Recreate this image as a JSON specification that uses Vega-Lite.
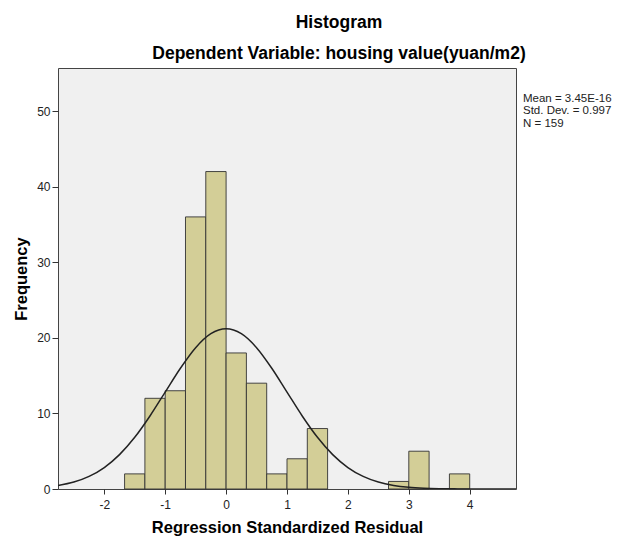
{
  "$schema": "https://vega.github.io/schema/vega-lite/v6.json",
  "width": 458,
  "height": 421,
  "autosize": "none",
  "padding": {"left": 58, "top": 68, "right": 102, "bottom": 49},
  "background": "white",
  "config": {
    "font": "Liberation Sans",
    "view": {"fill": "#F0F0F0", "stroke": "#444444", "strokeWidth": 1}
  },
  "title": {
    "text": "Histogram",
    "subtitle": "Dependent Variable: housing value(yuan/m2)",
    "anchor": "middle",
    "dx": 52,
    "offset": 6,
    "fontSize": 17.5,
    "fontWeight": "bold",
    "color": "#000000",
    "subtitleFontSize": 17.5,
    "subtitleFontWeight": "bold",
    "subtitleColor": "#000000",
    "subtitlePadding": 13
  },
  "datasets": {
    "hist": [
      {"bin_start": -1.6667, "bin_end": -1.3333, "count": 2},
      {"bin_start": -1.3333, "bin_end": -1.0, "count": 12},
      {"bin_start": -1.0, "bin_end": -0.6667, "count": 13},
      {"bin_start": -0.6667, "bin_end": -0.3333, "count": 36},
      {"bin_start": -0.3333, "bin_end": 0.0, "count": 42},
      {"bin_start": 0.0, "bin_end": 0.3333, "count": 18},
      {"bin_start": 0.3333, "bin_end": 0.6667, "count": 14},
      {"bin_start": 0.6667, "bin_end": 1.0, "count": 2},
      {"bin_start": 1.0, "bin_end": 1.3333, "count": 4},
      {"bin_start": 1.3333, "bin_end": 1.6667, "count": 8},
      {"bin_start": 2.6667, "bin_end": 3.0, "count": 1},
      {"bin_start": 3.0, "bin_end": 3.3333, "count": 5},
      {"bin_start": 3.6667, "bin_end": 4.0, "count": 2}
    ],
    "curve": [
      {"x": -2.76, "y": 0.46},
      {"x": -2.5, "y": 0.914},
      {"x": -2.25, "y": 1.662},
      {"x": -2.0, "y": 2.836},
      {"x": -1.75, "y": 4.544},
      {"x": -1.5, "y": 6.839},
      {"x": -1.25, "y": 9.663},
      {"x": -1.0, "y": 12.824},
      {"x": -0.75, "y": 15.981},
      {"x": -0.5, "y": 18.702},
      {"x": -0.25, "y": 20.552},
      {"x": 0.0, "y": 21.208},
      {"x": 0.25, "y": 20.552},
      {"x": 0.5, "y": 18.702},
      {"x": 0.75, "y": 15.981},
      {"x": 1.0, "y": 12.824},
      {"x": 1.25, "y": 9.663},
      {"x": 1.5, "y": 6.839},
      {"x": 1.75, "y": 4.544},
      {"x": 2.0, "y": 2.836},
      {"x": 2.25, "y": 1.662},
      {"x": 2.5, "y": 0.914},
      {"x": 2.75, "y": 0.473},
      {"x": 3.0, "y": 0.229},
      {"x": 3.25, "y": 0.105},
      {"x": 3.5, "y": 0.045},
      {"x": 3.75, "y": 0.018},
      {"x": 4.0, "y": 0.007},
      {"x": 4.25, "y": 0.002},
      {"x": 4.5, "y": 0.001},
      {"x": 4.76, "y": 0.0}
    ],
    "stats": [
      {"label": "Mean = 3.45E-16\nStd. Dev. = 0.997\nN = 159"}
    ]
  },
  "layer": [
    {
      "data": {"name": "hist"},
      "mark": {"type": "bar", "fill": "#D3CE97", "stroke": "#333333", "strokeWidth": 1, "strokeOpacity": 0.9},
      "encoding": {
        "x": {
          "field": "bin_start",
          "type": "quantitative",
          "scale": {"domain": [-2.76, 4.76], "nice": false, "zero": false},
          "axis": {
            "title": "Regression Standardized Residual",
            "values": [-2, -1, 0, 1, 2, 3, 4],
            "labelExpr": "'' + datum.value",
            "grid": false,
            "domain": false,
            "tickColor": "#333333",
            "tickSize": 5,
            "labelFontSize": 12,
            "labelColor": "#222222",
            "labelPadding": 5,
            "titleFontSize": 16.5,
            "titleFontWeight": "bold",
            "titleColor": "#000000",
            "titlePadding": 9
          }
        },
        "x2": {"field": "bin_end"},
        "y": {
          "field": "count",
          "type": "quantitative",
          "scale": {"domain": [0, 55.7], "nice": false},
          "axis": {
            "title": "Frequency",
            "values": [0, 10, 20, 30, 40, 50],
            "grid": false,
            "domain": false,
            "tickColor": "#333333",
            "tickSize": 6,
            "labelFontSize": 12,
            "labelColor": "#222222",
            "labelPadding": 2,
            "titleFontSize": 16.5,
            "titleFontWeight": "bold",
            "titleColor": "#000000",
            "titlePadding": 7
          }
        },
        "y2": {"datum": 0}
      }
    },
    {
      "data": {"name": "curve"},
      "mark": {"type": "line", "color": "#222222", "strokeWidth": 1.5, "interpolate": "monotone", "clip": true},
      "encoding": {
        "x": {"field": "x", "type": "quantitative"},
        "y": {"field": "y", "type": "quantitative"}
      }
    },
    {
      "data": {"name": "stats"},
      "mark": {"type": "text", "align": "left", "baseline": "alphabetic", "dx": 7, "fontSize": 11.5, "lineBreak": "\n", "lineHeight": 12.5, "color": "#222222"},
      "encoding": {
        "x": {"datum": 4.76, "type": "quantitative"},
        "y": {"datum": 51.23, "type": "quantitative"},
        "text": {"field": "label"}
      }
    }
  ]
}
